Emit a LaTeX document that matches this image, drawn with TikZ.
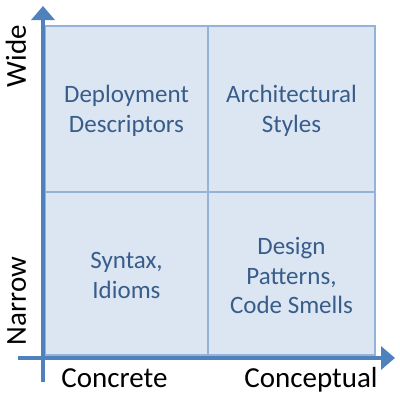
\documentclass[tikz,border=0pt]{standalone}
\usepackage{fontspec}
\setmainfont{Carlito}
\usetikzlibrary{arrows.meta}
\definecolor{cellfill}{HTML}{DCE6F2}
\definecolor{cellline}{HTML}{95B3D7}
\definecolor{axisblue}{HTML}{4F81BD}
\definecolor{celltext}{HTML}{385D8A}
\tikzset{
  cell/.style={draw=cellline, fill=cellfill, line width=2.5pt, inner sep=0pt},
  celltxt/.style={align=center, text=celltext, inner sep=0pt, font=\fontsize{25}{29.5}\selectfont},
  axisline/.style={draw=axisblue, line width=4pt, -{Triangle[length=14pt,width=23pt]}},
  axislabel/.style={font=\fontsize{29}{34}\selectfont, text=black, inner sep=0pt, anchor=base}
}
\begin{document}
\begin{tikzpicture}[x=1pt,y=-1pt]
\useasboundingbox (0,0) rectangle (400,400);
\node[cell, minimum width=163pt, minimum height=166pt] (tl) at (126.5,109) {};
\node[cell, minimum width=167pt, minimum height=166pt] (tr) at (291.5,109) {};
\node[cell, minimum width=163pt, minimum height=163pt] (bl) at (126.5,273.5) {};
\node[cell, minimum width=167pt, minimum height=163pt] (br) at (291.5,273.5) {};
\node[celltxt] (tltxt) at ([yshift=-2pt]tl.center) {Deployment\\Descriptors};
\node[celltxt] (trtxt) at ([yshift=-2pt]tr.center) {Architectural\\Styles};
\node[celltxt] (bltxt) at ([yshift=-2pt]bl.center) {Syntax,\\Idioms};
\node[celltxt] (brtxt) at ([yshift=-2pt]br.center) {Design\\Patterns,\\Code Smells};
\coordinate (ybot) at (43,382);
\coordinate (ytop) at (43,6);
\coordinate (xleft) at (18,358);
\coordinate (xright) at (395,358);
\draw[axisline] (ybot) -- (ytop);
\draw[axisline] (xleft) -- (xright);
\node[axislabel, rotate=90] (wide) at (26,56) {Wide};
\node[axislabel, rotate=90] (narrow) at (26,301) {Narrow};
\node[axislabel] (concrete) at (114.5,387) {Concrete};
\node[axislabel] (conceptual) at (311,387) {Conceptual};
\end{tikzpicture}
\end{document}
